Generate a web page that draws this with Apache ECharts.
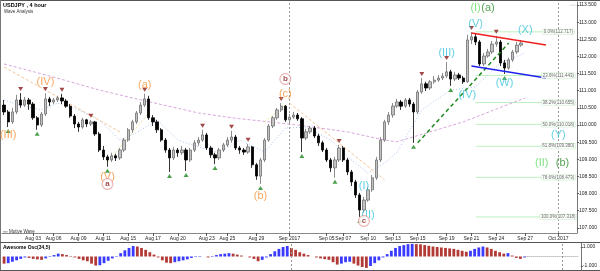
<!DOCTYPE html>
<html><head><meta charset="utf-8">
<script src="https://cdn.jsdelivr.net/npm/echarts@6/dist/echarts.min.js"></script>
<style>html,body{margin:0;padding:0;background:#fff}#c{width:600px;height:271px}</style>
</head><body><div id="c"></div><script>
// ---- data ----
const slotCount = 139;
const tickNames = ['Aug 03','Aug 06','Aug 09','Aug 11','Aug 15','Aug 17','Aug 20','Aug 23','Aug 25','Aug 29','Sep 2017','Sep 05','Sep 07','Sep 10','Sep 13','Sep 15','Sep 19','Sep 21','Sep 24','Sep 27','Oct 2017'];
const tickSlots = [7,12,18,24,30,36,42,49,54,61,69,78,82,88,94,100,107,113,119,126,134];
const monthSlots = [69,134];
const priceTicks = [107,107.5,108,108.5,109,109.5,110,110.5,111,111.5,112,112.5,113,113.5];
// [open, close, low, high]
const candles = [
[110.58,110.38,110.29,110.73],[110.38,110.09,109.94,110.44],[110.09,110.38,110.03,110.50],[110.38,110.73,110.32,110.88],
[110.73,110.58,110.50,110.93],[110.58,110.73,110.53,110.82],[110.73,110.61,110.44,110.79],[110.61,110.21,110.15,110.67],
[110.21,110.00,109.86,110.26],[110.00,110.32,109.94,110.38],[110.32,110.76,110.26,110.93],[110.76,110.67,110.55,110.82],
[110.67,110.73,110.61,110.79],[110.73,110.79,110.67,110.85],[110.79,110.70,110.61,110.91],[110.70,110.55,110.50,110.76],
[110.55,110.26,110.21,110.61],[110.26,110.03,109.91,110.32],[110.03,109.94,109.80,110.09],[109.94,110.15,109.89,110.21],
[110.15,110.03,109.94,110.18],[110.03,110.09,109.97,110.15],[110.09,109.74,109.68,110.12],[109.74,109.27,109.21,109.80],
[109.27,109.07,108.98,109.39],[109.07,108.98,108.78,109.13],[108.98,109.10,108.92,109.19],[109.10,109.04,108.95,109.16],
[109.04,109.27,108.98,109.33],[109.27,109.56,109.21,109.62],[109.56,109.86,109.51,109.91],[109.86,110.09,109.77,110.15],
[110.09,110.35,110.03,110.41],[110.35,110.58,110.29,110.67],[110.58,110.76,110.53,110.91],[110.76,110.21,110.15,110.85],
[110.21,110.09,109.97,110.29],[110.09,109.86,109.77,110.15],[109.86,109.56,109.51,109.91],[109.56,109.27,109.19,109.62],
[109.27,109.04,108.63,109.33],[109.04,109.27,108.98,109.36],[109.27,109.19,109.07,109.33],[109.19,109.27,109.13,109.39],
[109.27,108.98,108.66,109.33],[108.98,109.27,108.92,109.33],[109.27,109.48,109.21,109.56],[109.48,109.56,109.39,109.65],
[109.56,109.71,109.51,109.86],[109.71,109.33,109.27,109.77],[109.33,109.13,109.04,109.39],[109.13,109.04,108.86,109.19],
[109.04,109.27,108.98,109.33],[109.27,109.42,109.21,109.48],[109.42,109.56,109.36,109.65],[109.56,109.65,109.48,109.83],
[109.65,109.33,109.27,109.71],[109.33,109.27,109.16,109.39],[109.27,109.21,109.13,109.33],[109.21,109.36,109.16,109.45],
[109.36,108.84,108.75,109.39],[108.84,108.51,108.40,108.89],[108.51,108.98,108.28,109.04],[108.98,109.56,108.92,109.62],
[109.56,109.97,109.51,110.03],[109.97,110.21,109.91,110.26],[110.21,110.44,110.15,110.50],[110.44,110.55,110.38,110.64],
[110.55,110.15,110.09,110.58],[110.15,110.23,110.06,110.32],[110.23,110.29,110.18,110.38],[110.29,110.18,110.12,110.35],
[110.18,109.62,109.21,110.23],[109.62,109.80,109.56,109.89],[109.80,109.91,109.74,109.97],[109.91,109.68,109.62,109.97],
[109.68,109.48,109.39,109.74],[109.48,109.27,109.21,109.54],[109.27,108.98,108.92,109.33],[108.98,108.75,108.63,109.04],
[108.75,108.98,108.46,109.07],[108.98,109.33,108.92,109.42],[109.33,108.98,108.92,109.39],[108.98,108.63,108.54,109.04],
[108.63,108.34,108.22,108.69],[108.34,107.96,107.87,108.40],[107.96,107.52,107.32,108.02],[107.52,107.81,107.44,107.90],
[107.81,108.11,107.76,108.19],[108.11,108.46,108.05,108.54],[108.46,108.98,108.40,109.07],[108.98,109.56,108.92,109.65],
[109.56,110.09,109.51,110.15],[110.09,110.29,110.00,110.38],[110.29,110.55,110.21,110.64],[110.55,110.67,110.50,110.76],
[110.67,110.55,110.44,110.73],[110.55,110.73,110.50,110.79],[110.73,110.61,110.53,110.79],[110.61,110.38,109.48,110.67],
[110.38,110.96,110.32,111.02],[110.96,111.20,110.91,111.37],[111.20,111.08,110.99,111.26],[111.08,111.26,111.02,111.31],
[111.26,111.31,111.20,111.43],[111.31,111.37,111.26,111.46],[111.37,111.43,111.31,111.52],[111.43,111.55,111.37,111.84],
[111.55,111.34,111.14,111.61],[111.34,111.46,111.28,111.55],[111.46,111.37,111.31,111.52],[111.37,111.26,111.20,111.43],
[111.26,112.48,111.23,112.63],[112.48,112.57,112.36,112.71],[112.57,112.42,112.33,112.66],[112.42,111.78,111.72,112.48],
[111.78,112.01,111.72,112.10],[112.01,112.13,111.96,112.22],[112.13,112.36,112.07,112.45],[112.36,112.42,112.28,112.60],
[112.42,111.81,111.72,112.48],[111.81,111.66,111.49,111.90],[111.66,111.90,111.61,111.96],[111.90,112.13,111.84,112.19],
[112.13,112.33,112.07,112.42],[112.33,112.39,112.28,112.48]
];
const ao = [
-0.75,-0.7,-0.55,-0.4,-0.25,-0.1,-0.15,-0.25,-0.3,-0.35,-0.2,-0.05,0.15,0.3,0.25,0.15,0.05,-0.1,-0.25,-0.4,
-0.5,-0.75,-0.95,-0.92,-0.7,-0.45,-0.2,0.05,0.35,0.65,0.9,1.1,1.05,0.9,0.7,0.45,0.2,-0.1,-0.4,-0.65,
-0.7,-0.6,-0.5,-0.4,-0.3,-0.15,-0.05,0.05,0.0,-0.1,0.05,0.15,0.25,0.3,0.35,0.3,0.2,0.1,0.0,-0.1,
-0.25,-0.5,-0.35,-0.1,0.25,0.55,0.8,1.0,1.1,0.9,0.7,0.45,0.3,0.15,0.0,-0.1,-0.2,-0.28,-0.35,-0.6,
-0.85,-0.75,-0.6,-0.55,-0.75,-0.95,-1.1,-1.2,-1.0,-0.7,-0.4,-0.1,0.25,0.6,0.9,1.1,1.2,1.3,1.33,1.3,
1.28,1.2,1.12,1.05,1.0,0.95,0.9,0.85,0.8,0.7,0.6,0.5,0.6,0.8,0.95,1.05,0.95,0.8,0.6,0.45,
0.3,0.35,0.1,-0.15,-0.25,-0.1
];
const fractalHighs = [4,10,14,21,34,48,55,59,67,81,101,107,113,119];
const fractalLows = [1,8,25,40,44,51,62,72,80,86,99,108,121];
const maSlow = [[0,111.78],[11,111.43],[23,111.02],[31,110.79],[47,110.35],[55,110.21],[71,110.0],[83,109.8],[92,109.56],[95,109.51],[111,110.09],[126,110.79]];
const maFast = [[0,110.73],[4,110.58],[9,110.44],[13,110.64],[18,110.44],[23,110.15],[28,109.56],[32,109.77],[37,110.15],[42,109.56],[47,109.36],[52,109.19],[57,109.56],[63,109.21],[68,109.91],[73,109.94],[79,109.56],[84,108.98],[88,108.6],[92,108.89],[95,109.21],[101,110.44],[108,111.02],[114,111.11],[120,111.81],[126,112.1]];
const orangeLines = [[[0,111.69],[28,109.8]],[[69,110.64],[92,108.4]]];
const yellowLines = [[[25,108.92],[35,110.35]],[[63,110.09],[68,110.58]]];
const greenTrend = [[100,109.48],[122,112.39]];
const redChannel = [[113,112.68],[131,112.33]];
const blueChannel = [[113,111.72],[131,111.37]];
const fibNames = ['0.0%','23.6%','38.2%','50.0%','61.8%','78.6%','100.0%'];
const fibLevels = [112.717,111.443,110.655,110.018,109.380,108.473,107.318];
const fibRange = [114,138];
const fibLabelSlot = 134;
const orangeLabels = [[1,109.71,'(III)'],[10,111.25,'(IV)'],[25,108.49,'(V)'],[34,111.17,'(a)'],[62,107.93,'(b)'],[68,110.91,'(c)']];
const circleLabels = [[25,108.28,'a'],[68,111.34,'b'],[87,107.2,'c']];
const cyanLabels = [[87,108.22,'(I)'],[88,107.38,'(II)'],[107,112.1,'(III)'],[112,110.88,'(IV)'],[114,112.95,'(V)'],[121,111.23,'(W)'],[126,112.77,'(X)'],[133.5,109.71,'(Y)']];
const lightGreenLabels = [[113.6,113.41,'(I)'],[130.4,108.89,'(II)']];
const darkGreenLabels = [[117,113.41,'(a)'],[134.7,108.89,'(b)']];
const priceBoxes = [[112.60,'112.597'],[112.36,'112.363'],[112.22,'112.218'],[112.04,'112.042'],[110.78,'110.778']];
const aoBoxValue = 0.13;

// ---- chart ----
const cats = Array.from({length: slotCount}, (_, i) => 's' + i);
const labelMap = {};
tickSlots.forEach((s, k) => labelMap[s] = tickNames[k]);
const BLUE = '#3b3bff', RED = '#b23a36';
const aoData = ao.map((v, i) => ({value: v, itemStyle: {color: (i > 0 && v > ao[i - 1]) ? BLUE : RED}}));
const FONT = 'Arial, Liberation Sans, sans-serif';

function lineSeries(data, color, type, width, z) {
  return {type: 'line', xAxisIndex: 0, yAxisIndex: 0, data: data, symbol: 'none', silent: true, z: z || 3,
    lineStyle: {color: color, width: width || 1, type: type || 'solid'}};
}
function textSeries(arr, color, size, extra) {
  return {type: 'scatter', xAxisIndex: 0, yAxisIndex: 0, symbolSize: 0, silent: true, z: 10,
    data: arr.map(a => ({value: [a[0], a[1]], name: a[2]})),
    label: Object.assign({show: true, position: 'inside', formatter: '{b}', color: color, fontSize: size, fontFamily: FONT}, extra || {})};
}

const series = [];
series.push(lineSeries(maSlow, '#d9a6dd', [3, 2], 1, 2));
series.push(lineSeries(maFast, '#a9c4f2', [1, 2], 1, 2));
orangeLines.forEach(l => series.push(lineSeries(l, '#f6c597', [3, 2], 1, 2)));
yellowLines.forEach(l => series.push(lineSeries(l, '#ece29a', [2, 2], 1, 2)));
fibLevels.forEach(v => series.push(lineSeries([[fibRange[0], v], [fibRange[1], v]], '#bff0bf', 'solid', 1, 1)));
series.push({
  type: 'candlestick', xAxisIndex: 0, yAxisIndex: 0, data: candles, barWidth: 2.8, z: 4, silent: true,
  itemStyle: {color: '#c2c2c2', color0: '#000', borderColor: '#6e6e6e', borderColor0: '#000', borderWidth: 0.8},
  markLine: {symbol: 'none', silent: true, lineStyle: {opacity: 0},
    data: priceBoxes.map((b, k) => ({yAxis: b[0], label: {show: true, position: 'end', distance: 2, formatter: b[1], fontSize: 5, padding: [0, 1],
      color: k === 2 ? '#c00' : (k === 1 ? '#fff' : '#000'),
      backgroundColor: ['#cdd6e6', '#7b7bd8', '#ffd9d9', '#fff', '#fff'][k], borderColor: '#666', borderWidth: 0.5}}))}
});
series.push(lineSeries(greenTrend, '#1e8a1e', [4, 3], 1.5, 5));
series.push(lineSeries(redChannel, '#f02020', 'solid', 1.5, 5));
series.push(lineSeries(blueChannel, '#2020f0', 'solid', 1.5, 5));
series.push({type: 'scatter', xAxisIndex: 0, yAxisIndex: 0, silent: true, z: 6, symbol: 'triangle', symbolRotate: 180, symbolSize: [5, 4], symbolOffset: [0, -4],
  itemStyle: {color: '#8b1a1a'}, data: fractalHighs.map(i => [i, candles[i][3]])});
series.push({type: 'scatter', xAxisIndex: 0, yAxisIndex: 0, silent: true, z: 6, symbol: 'triangle', symbolSize: [5, 4], symbolOffset: [0, 4],
  itemStyle: {color: '#1e8a1e'}, data: fractalLows.map(i => [i, candles[i][2]])});
series.push({type: 'scatter', xAxisIndex: 0, yAxisIndex: 0, symbolSize: 0, silent: true, z: 9,
  data: fibLevels.map((v, k) => ({value: [fibLabelSlot, v], name: fibNames[k] + '(' + v.toFixed(3) + ')'})),
  label: {show: true, position: 'inside', formatter: '{b}', fontSize: 4.5, color: '#444', backgroundColor: '#fff', borderColor: '#bfe9bf', borderWidth: 0.5, padding: [0, 1]}});
series.push(textSeries(orangeLabels, '#f7923a', 11));
series.push(textSeries(cyanLabels, '#3ec3dc', 11));
series.push(textSeries(lightGreenLabels, '#5fd95f', 11));
series.push(textSeries(darkGreenLabels, '#2a8c2a', 11));
series.push(textSeries(circleLabels, '#8b1a1a', 8, {fontWeight: 'bold', borderColor: '#e49a9a', borderWidth: 1, borderRadius: 6, width: 10, height: 10, lineHeight: 10, align: 'center', backgroundColor: '#fff'}));
// month separators in both panels
series.push({type: 'line', xAxisIndex: 0, yAxisIndex: 0, data: [], markLine: {symbol: 'none', silent: true, label: {show: false}, lineStyle: {color: '#999', type: [2, 2], width: 1}, data: monthSlots.map(s => ({xAxis: s}))}});
series.push({
  type: 'bar', xAxisIndex: 1, yAxisIndex: 1, data: aoData, barWidth: 2.8, silent: true,
  markLine: {symbol: 'none', silent: true,
    data: [
      ...monthSlots.map(s => ({xAxis: s, label: {show: false}, lineStyle: {color: '#999', type: [2, 2], width: 1}})),
      [{coord: [ao.length - 1, 0], lineStyle: {color: '#999', type: [1, 1], width: 1}, label: {show: false}}, {coord: [slotCount - 1, 0]}],
      {yAxis: aoBoxValue, lineStyle: {opacity: 0}, label: {show: true, position: 'end', distance: 2, formatter: aoBoxValue.toFixed(3), fontSize: 5, padding: [0, 1], color: '#000', backgroundColor: '#fff', borderColor: '#444', borderWidth: 0.5}}
    ]}
});

const option = {
  animation: false,
  backgroundColor: '#fff',
  grid: [
    {left: 2, top: 2, width: 581, height: 231},
    {left: 2, top: 243, width: 581, height: 27}
  ],
  xAxis: [
    {type: 'category', gridIndex: 0, data: cats, boundaryGap: true,
      axisLine: {show: true, lineStyle: {color: '#888', width: 1}},
      axisTick: {show: true, alignWithLabel: true, length: 3, interval: i => labelMap[i] !== undefined, lineStyle: {color: '#555'}},
      axisLabel: {show: true, interval: 0, formatter: (v, i) => labelMap[i] || '', fontSize: 5, color: '#222', margin: 3, fontFamily: FONT},
      splitLine: {show: false}},
    {type: 'category', gridIndex: 1, data: cats, boundaryGap: true, axisLine: {show: false}, axisTick: {show: false}, axisLabel: {show: false}}
  ],
  yAxis: [
    {type: 'value', gridIndex: 0, position: 'right', min: 106.85, max: 113.587, scale: true,
      axisLine: {show: true, lineStyle: {color: '#777'}},
      axisTick: {show: true, length: 2, customValues: priceTicks, lineStyle: {color: '#555'}},
      axisLabel: {show: true, customValues: priceTicks, formatter: v => v.toFixed(3), fontSize: 5, color: '#222', margin: 2, fontFamily: FONT},
      splitLine: {show: false}},
    {type: 'value', gridIndex: 1, position: 'right', min: -1.42, max: 1.42,
      axisLine: {show: true, lineStyle: {color: '#777'}},
      axisTick: {show: true, length: 2, customValues: [-1, 1], lineStyle: {color: '#555'}},
      axisLabel: {show: true, customValues: [-1, 1], formatter: v => v.toFixed(3), fontSize: 5, color: '#222', margin: 2, fontFamily: FONT},
      splitLine: {show: false}}
  ],
  graphic: [
    {type: 'line', shape: {x1: 0, y1: 0.5, x2: 600, y2: 0.5}, style: {stroke: '#555', lineWidth: 1}},
    {type: 'line', shape: {x1: 0.5, y1: 0, x2: 0.5, y2: 271}, style: {stroke: '#777', lineWidth: 1}},
    {type: 'line', shape: {x1: 0, y1: 242.5, x2: 600, y2: 242.5}, style: {stroke: '#555', lineWidth: 1}},
    {type: 'line', shape: {x1: 0, y1: 270.5, x2: 600, y2: 270.5}, style: {stroke: '#555', lineWidth: 1}},
    {type: 'text', left: 3, top: 2, style: {text: 'USDJPY , 4 hour', font: 'bold 5.5px ' + FONT, fill: '#000'}},
    {type: 'text', left: 4, top: 9, style: {text: 'Wave Analysis', font: '4.5px ' + FONT, fill: '#333'}},
    {type: 'text', left: 3, top: 229, style: {text: '▫▫▫ Motive Wave', font: '4.5px ' + FONT, fill: '#333'}},
    {type: 'text', left: 3, top: 245, style: {text: 'Awesome Osc(34,5)', font: 'bold 5px ' + FONT, fill: '#000'}},
    {type: 'text', right: 24, top: 2, style: {text: '◦◦◦', font: '6px ' + FONT, fill: '#999'}}
  ],
  series: series
};
echarts.init(document.getElementById('c'), null, {renderer: 'canvas'}).setOption(option);
</script></body></html>
